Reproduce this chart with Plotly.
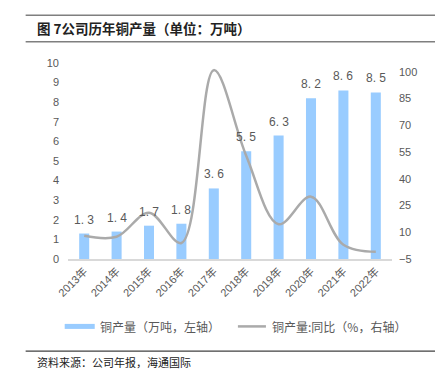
import plotly.graph_objects as go

years = ["2013年", "2014年", "2015年", "2016年", "2017年", "2018年", "2019年", "2020年", "2021年", "2022年"]
output = [1.3, 1.4, 1.7, 1.8, 3.6, 5.5, 6.3, 8.2, 8.6, 8.5]
yoy = [8, 7.5, 21, 4, 101, 53, 14.5, 30, 3, -1]
left_ticks = list(range(0, 11))
right_ticks = [-5, 10, 25, 40, 55, 70, 85, 100]

bar_color = "#99CCFF"
line_color = "#AAAAAA"
txt_color = "#595959"
font_fam = "Liberation Sans, Arial, Noto Sans CJK SC"
cjk = "Noto Sans CJK SC"

labels = [f"{v:.1f}".replace(".", ". ") for v in output]

fig = go.Figure()
fig.add_trace(go.Bar(
    x=years, y=output, name="铜产量（万吨，左轴）",
    marker=dict(color=bar_color, line=dict(width=0)),
    width=0.31, yaxis="y", showlegend=False,
))
fig.add_trace(go.Scatter(
    x=years, y=yoy, name="铜产量:同比（%，右轴）", mode="lines",
    line=dict(color=line_color, width=2.5, shape="spline", smoothing=1.0),
    yaxis="y2", showlegend=False, cliponaxis=False,
))

def px_x(px):
    return (px - 60.3) / 323.6

def px_y(py):
    return (250.7 - py) / 195.7

shapes = [
    dict(type="line", xref="paper", yref="paper", x0=px_x(18), x1=px_x(439), y0=px_y(7.3), y1=px_y(7.3),
         line=dict(color="#7f7f7f", width=1.5)),
    dict(type="line", xref="paper", yref="paper", x0=px_x(18), x1=px_x(439), y0=px_y(33.7), y1=px_y(33.7),
         line=dict(color="#7f7f7f", width=1.5)),
    dict(type="line", xref="paper", yref="paper", x0=px_x(18), x1=px_x(439), y0=px_y(342.7), y1=px_y(342.7),
         line=dict(color="#404040", width=1.2)),
    dict(type="rect", xref="paper", yref="paper", x0=px_x(57), x1=px_x(87), y0=px_y(320.5), y1=px_y(315.5),
         fillcolor=bar_color, line=dict(width=0)),
    dict(type="line", xref="paper", yref="paper", x0=px_x(230), x1=px_x(258), y0=px_y(318), y1=px_y(318),
         line=dict(color=line_color, width=2.5)),
]

annotations = [
    dict(text="<b>图 7公司历年铜产量（单位：万吨）</b>", xref="paper", yref="paper", x=px_x(27), y=px_y(20),
         xanchor="left", yanchor="middle", showarrow=False, font=dict(size=13.5, color="#222222", family=cjk)),
    dict(text="铜产量（万吨，左轴）", xref="paper", yref="paper", x=px_x(90), y=px_y(318),
         xanchor="left", yanchor="middle", showarrow=False, font=dict(size=12, color=txt_color, family=cjk)),
    dict(text="铜产量:同比（%，右轴）", xref="paper", yref="paper", x=px_x(262), y=px_y(318),
         xanchor="left", yanchor="middle", showarrow=False, font=dict(size=12, color=txt_color, family=cjk)),
    dict(text="资料来源：公司年报，海通国际", xref="paper", yref="paper", x=px_x(27), y=px_y(354),
         xanchor="left", yanchor="middle", showarrow=False, font=dict(size=11, color="#222222", family=cjk)),
]
for yr, v, lab in zip(years, output, labels):
    annotations.append(dict(
        x=yr, y=v, xref="x", yref="y", text=lab, showarrow=False,
        yanchor="bottom", xanchor="center", yshift=5,
        font=dict(size=12, color=txt_color, family=font_fam),
    ))

fig.update_layout(
    width=443, height=375,
    margin=dict(l=60, r=59, t=55, b=124.3),
    paper_bgcolor="white", plot_bgcolor="white",
    font=dict(family=font_fam, color=txt_color, size=11),
    showlegend=False,
    xaxis=dict(type="category", showgrid=False, showline=True, linecolor="#d9d9d9", linewidth=1.5,
               ticks="", tickangle=-45, tickfont=dict(size=11, color=txt_color, family=font_fam),
               range=[-0.5, 9.5]),
    yaxis=dict(range=[0, 10], tickvals=left_ticks, showgrid=False, zeroline=False, showline=False,
               tickfont=dict(size=11, color=txt_color), ticklabelstandoff=8),
    yaxis2=dict(range=[-5, 105], tickvals=right_ticks, overlaying="y", side="right", showgrid=False,
                zeroline=False, showline=False, tickfont=dict(size=11, color=txt_color), ticklabelstandoff=6),
    bargap=0.69,
    shapes=shapes, annotations=annotations,
)

fig.write_html("out.html")
